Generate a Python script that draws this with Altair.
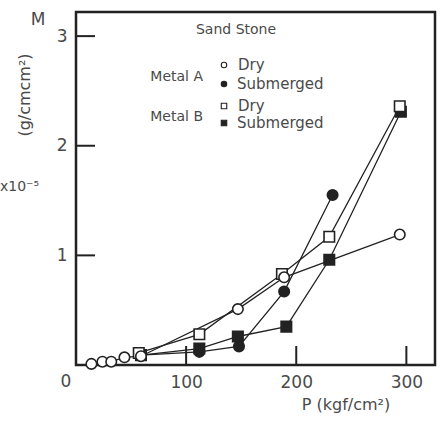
import altair as alt
import pandas as pd

# ---- data ----
series_names = ["Metal A Dry", "Metal A Submerged", "Metal B Dry", "Metal B Submerged"]

a_dry_p = [14, 24, 32, 44, 59, 147, 189, 294]
a_dry_m = [0.01, 0.03, 0.03, 0.07, 0.08, 0.51, 0.80, 1.19]

a_sub_p = [59, 112, 148, 189, 233]
a_sub_m = [0.09, 0.12, 0.17, 0.67, 1.55]

b_dry_p = [57, 112, 187, 230, 294]
b_dry_m = [0.11, 0.28, 0.83, 1.17, 2.36]

b_sub_p = [59, 112, 147, 191, 230, 295]
b_sub_m = [0.09, 0.15, 0.26, 0.35, 0.96, 2.31]

x_ticks = [100, 200, 300]
y_ticks = [1, 2, 3]

rows = []
for name, ps, ms in [
    ("Metal B Submerged", b_sub_p, b_sub_m),
    ("Metal A Submerged", a_sub_p, a_sub_m),
    ("Metal B Dry", b_dry_p, b_dry_m),
    ("Metal A Dry", a_dry_p, a_dry_m),
]:
    for i, (p, m) in enumerate(zip(ps, ms)):
        rows.append({"series": name, "P": p, "M": m, "order": i})
df = pd.DataFrame(rows)

W, H = 359, 353
XDOM = [0, 326]
YDOM = [0, 3.22]
INK = "#222222"
TXT = "#4a4a4a"
FONT = "DejaVu Sans"

xs = alt.Scale(domain=XDOM, nice=False, zero=False)
ys = alt.Scale(domain=YDOM, nice=False, zero=False)

shape_scale = alt.Scale(domain=series_names, range=["circle", "circle", "square", "square"])
fill_scale = alt.Scale(domain=series_names, range=["white", INK, "white", INK])

base = alt.Chart(df)

lines = base.mark_line(color=INK, strokeWidth=1.3).encode(
    x=alt.X("P:Q", scale=xs,
            axis=alt.Axis(values=x_ticks, format="d", title=None, grid=False, domain=False, ticks=False,
                          labelFontSize=17, labelColor=TXT, labelFont=FONT, labelPadding=9)),
    y=alt.Y("M:Q", scale=ys,
            axis=alt.Axis(values=y_ticks, format="d", title=None, grid=False, domain=False, ticks=False,
                          labelFontSize=17, labelColor=TXT, labelFont=FONT, labelPadding=9)),
    detail="series:N",
    order="order:Q",
)

points = base.mark_point(size=110, strokeWidth=1.6, stroke=INK, opacity=1, filled=False).encode(
    x=alt.X("P:Q", scale=xs),
    y=alt.Y("M:Q", scale=ys),
    shape=alt.Shape("series:N", scale=shape_scale, legend=None),
    fill=alt.Fill("series:N", scale=fill_scale, legend=None),
)

# inward tick marks
ytick_df = pd.DataFrame({"v": y_ticks})
xtick_df = pd.DataFrame({"v": x_ticks})
yticks = alt.Chart(ytick_df).mark_rule(color=INK, strokeWidth=2).encode(
    y=alt.Y("v:Q", scale=ys), x=alt.value(0), x2=alt.value(19))
xticks = alt.Chart(xtick_df).mark_rule(color=INK, strokeWidth=2).encode(
    x=alt.X("v:Q", scale=xs), y=alt.value(H), y2=alt.value(H - 19))


def txt(text, x, y, size=13, align="left", angle=0, baseline="middle"):
    kw = dict(text=text, fontSize=size, color=TXT, font=FONT, align=align, baseline=baseline)
    if angle:
        kw["angle"] = angle
    return alt.Chart(pd.DataFrame({"a": [0]})).mark_text(**kw).encode(
        x=alt.value(x), y=alt.value(y))


def sym(shape, filled, x, y, size=30):
    return alt.Chart(pd.DataFrame({"a": [0]})).mark_point(
        shape=shape, size=size, filled=True, fill=INK if filled else "white",
        stroke=INK, strokeWidth=1.1, opacity=1).encode(x=alt.value(x), y=alt.value(y))


layers = [
    lines, points, yticks, xticks,
    txt("0", -10, H + 17, size=17, align="center"),
    txt("M", -38, 8, size=17, align="center"),
    txt("(g/cmcm²)", -51, 83, size=16, align="center", angle=270),
    txt("x10⁻⁵", -76, 175, size=14),
    txt("P (kgf/cm²)", 270, 393, size=16, align="center"),
    txt("Sand  Stone", 160, 18, size=14, align="center"),
    txt("Metal A", 127, 65, size=14, align="right"),
    txt("Metal B", 127, 105, size=14, align="right"),
    sym("circle", False, 148, 53),
    sym("circle", True, 148, 72),
    sym("square", False, 148, 94),
    sym("square", True, 148, 111),
    txt("Dry", 162, 53, size=15),
    txt("Submerged", 161, 72, size=15),
    txt("Dry", 162, 94, size=15),
    txt("Submerged", 161, 111, size=15),
]

chart = alt.layer(*layers).properties(
    width=W, height=H,
    padding={"left": 76, "top": 12, "right": 8, "bottom": 65},
    autosize=alt.AutoSizeParams(type="none"),
    background="white",
).configure_view(stroke=INK, strokeWidth=2.5)

chart.save("out.html", embed_options={"renderer": "svg", "actions": False})
